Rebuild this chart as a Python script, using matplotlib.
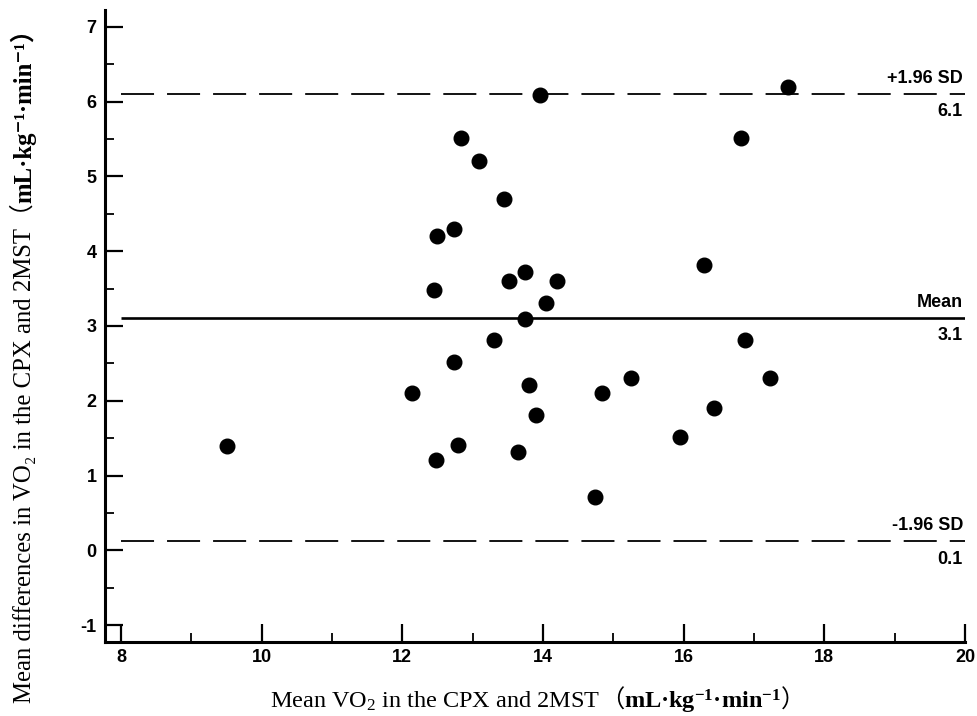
import matplotlib
matplotlib.use('Agg')
import matplotlib.pyplot as plt
import matplotlib.ticker as mticker
from matplotlib.transforms import IdentityTransform

plt.rcParams['mathtext.fontset'] = 'custom'
plt.rcParams['mathtext.rm'] = 'Liberation Serif'
plt.rcParams['mathtext.it'] = 'Liberation Serif:italic'
plt.rcParams['mathtext.bf'] = 'Liberation Serif:bold'
plt.rcParams['axes.unicode_minus'] = False

# ---- data ----
mean_vo2 = [9.51, 12.14, 12.45, 12.49, 12.48, 12.73, 12.73, 12.79, 12.84, 13.09,
            13.30, 13.44, 13.51, 13.65, 13.74, 13.74, 13.80, 13.90, 13.96, 14.04,
            14.20, 14.74, 14.84, 15.25, 15.95, 16.29, 16.43, 16.82, 16.87, 17.23, 17.48]
diff_vo2 = [1.40, 2.10, 3.48, 4.20, 1.21, 4.30, 2.52, 1.41, 5.51, 5.21,
            2.81, 4.70, 3.60, 1.31, 3.72, 3.10, 2.21, 1.81, 6.09, 3.31,
            3.60, 0.71, 2.10, 2.30, 1.52, 3.82, 1.90, 5.51, 2.81, 2.30, 6.20]
bias = 3.11
upper_loa = 6.10
lower_loa = 0.12
line_names = ['+1.96 SD', 'Mean', '-1.96 SD']
line_values = [upper_loa, bias, lower_loa]
line_texts = ['6.1', '3.1', '0.1']
x_ticks = [8, 10, 12, 14, 16, 18, 20]
y_ticks = [-1, 0, 1, 2, 3, 4, 5, 6, 7]

W, H = 977, 716
fig = plt.figure(figsize=(W / 100, H / 100), dpi=100)
ax = fig.add_axes([105 / W, 1 - 642 / H, (965 - 105) / W, (642 - 10) / H])
ax.set_xlim(7.7725, 20)
ax.set_ylim(-1.2274, 7.2274)

for s in ['top', 'right']:
    ax.spines[s].set_visible(False)
for s in ['left', 'bottom']:
    ax.spines[s].set_linewidth(2.2)

ax.set_xticks(x_ticks)
ax.set_yticks(y_ticks)
ax.xaxis.set_minor_locator(mticker.MultipleLocator(1))
ax.yaxis.set_minor_locator(mticker.MultipleLocator(0.5))
ax.tick_params(which='major', direction='in', length=13, width=1.6)
ax.tick_params(axis='x', which='major', pad=5)
ax.tick_params(axis='y', which='major', pad=6)
ax.tick_params(which='minor', direction='in', length=6.5, width=1.3)
for lab in ax.get_xticklabels() + ax.get_yticklabels():
    lab.set_fontfamily('Liberation Sans')
    lab.set_fontweight('bold')
    lab.set_fontsize(13)

# reference lines
for name, v, txt in zip(line_names, line_values, line_texts):
    if name == 'Mean':
        ax.plot([x_ticks[0], x_ticks[-1]], [v, v], color='black', lw=1.9,
                solid_capstyle='butt')
    else:
        ax.plot([x_ticks[0], x_ticks[-1]], [v, v], color='black', lw=1.3,
                dashes=(18.3, 7.2))
    ax.annotate(name, xy=(x_ticks[-1], v), xytext=(-1.5, 8), textcoords='offset points',
                ha='right', va='baseline', fontsize=13, fontweight='bold',
                family='Liberation Sans')
    ax.annotate(txt, xy=(x_ticks[-1], v), xytext=(-1.5, -16), textcoords='offset points',
                ha='right', va='baseline', fontsize=13, fontweight='bold',
                family='Liberation Sans')

ax.plot(mean_vo2, diff_vo2, linestyle='none', marker='o', markersize=10.5,
        color='black', zorder=5)


def draw_pieces(pieces, x0, y0, vertical=False):
    renderer = fig.canvas.get_renderer()
    pos = 0.0
    for s, kw in pieces:
        if vertical:
            t = fig.text(x0, y0 + pos, s, transform=IdentityTransform(), rotation=90,
                         rotation_mode='anchor', ha='left', va='baseline', **kw)
            pos += t.get_window_extent(renderer).height
        else:
            t = fig.text(x0 + pos, y0, s, transform=IdentityTransform(),
                         ha='left', va='baseline', **kw)
            pos += t.get_window_extent(renderer).width
    return pos


fams = ['Liberation Serif', 'Noto Sans CJK SC', 'DejaVu Serif']

x_label_pieces = [
    ('Mean VO$_2$ in the CPX and 2MST', dict(family='Liberation Serif', fontsize=17.5)),
    ('（', dict(family='Noto Sans CJK SC', fontsize=17.5)),
    (r'mL·kg$^{\mathbf{-1}}$·min$^{\mathbf{-1}}$',
     dict(family='Liberation Serif', fontsize=17.5, fontweight='bold')),
    ('）', dict(family='Noto Sans CJK SC', fontsize=17.5)),
]
y_label_pieces = [
    ('Mean differences in VO₂ in the CPX and 2MST（', dict(family=fams, fontsize=17.8)),
    ('mL·kg⁻¹·min⁻¹）', dict(family=fams, fontsize=17.8, fontweight='bold')),
]

draw_pieces(x_label_pieces, 270, H - 708)
draw_pieces(y_label_pieces, 31, H - 703, vertical=True)

fig.savefig('out.png', dpi=100)
